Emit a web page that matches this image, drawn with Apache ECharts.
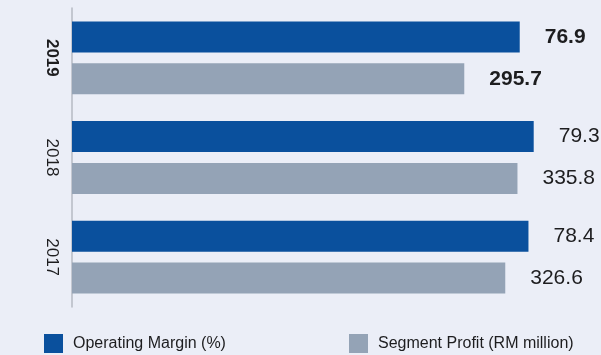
<!DOCTYPE html>
<html>
<head>
<meta charset="utf-8">
<script src="https://cdn.jsdelivr.net/npm/echarts@6/dist/echarts.min.js"></script>
<style>
  html, body { margin: 0; padding: 0; background: #ebeef7; }
  #chart { width: 601px; height: 355px; }
</style>
</head>
<body>
<div id="chart"></div>
<script>
// Years, top to bottom
const years = ['2019', '2018', '2017'];
// Operating margin, %
const operatingMargin = [76.9, 79.3, 78.4];
// Segment profit, RM million
const segmentProfit = [295.7, 335.8, 326.6];
const seriesNames = ['Operating Margin (%)', 'Segment Profit (RM million)'];

const FONT = "'Liberation Sans', Arial, sans-serif";
const BLUE = '#0a509d';
const GREY = '#94a3b6';
const TEXT = '#1d1d1f';

// Latest year is highlighted in bold
const withEmphasis = values => values.map((v, i) => ({
  value: v,
  label: { fontWeight: i === 0 ? 'bold' : 'normal' }
}));

const legendText = { fontFamily: FONT, fontSize: 16, color: TEXT, padding: [0, 0, 0, 5] };

const chart = echarts.init(document.getElementById('chart'), null, { renderer: 'canvas' });
chart.setOption({
  backgroundColor: '#ebeef7',
  animation: false,
  grid: { left: 72, right: 5, top: 8, bottom: 48, containLabel: false },
  xAxis: [
    { type: 'value', min: 0, max: 90, show: false },
    { type: 'value', min: 0, max: 395, show: false }
  ],
  yAxis: {
    type: 'category',
    data: years,
    inverse: true,
    axisTick: { show: false },
    axisLine: { lineStyle: { color: '#b6bac3', width: 1.5 } },
    axisLabel: {
      interval: 0,
      hideOverlap: false,
      rotate: -90,
      margin: 12,
      fontFamily: FONT,
      fontSize: 17,
      color: TEXT,
      formatter: (v, i) => i === 0 ? '{b|' + v + '}' : v,
      rich: { b: { fontWeight: 'bold', fontFamily: FONT, fontSize: 17, color: TEXT } }
    }
  },
  legend: [
    {
      data: [seriesNames[0]], left: 44, top: 334, padding: 0,
      itemWidth: 19, itemHeight: 19, itemGap: 10, icon: 'rect',
      textStyle: legendText
    },
    {
      data: [seriesNames[1]], left: 349, top: 334, padding: 0,
      itemWidth: 19, itemHeight: 19, itemGap: 10, icon: 'rect',
      textStyle: legendText
    }
  ],
  series: [
    {
      name: seriesNames[0], type: 'bar', xAxisIndex: 0,
      data: withEmphasis(operatingMargin),
      itemStyle: { color: BLUE },
      barWidth: 31, barGap: '35%', barCategoryGap: '27%',
      label: { show: true, position: 'right', distance: 25, fontFamily: FONT, fontSize: 21, color: TEXT }
    },
    {
      name: seriesNames[1], type: 'bar', xAxisIndex: 1,
      data: withEmphasis(segmentProfit),
      itemStyle: { color: GREY },
      barWidth: 31, barGap: '35%',
      label: { show: true, position: 'right', distance: 25, fontFamily: FONT, fontSize: 21, color: TEXT }
    }
  ]
});
</script>
</body>
</html>
